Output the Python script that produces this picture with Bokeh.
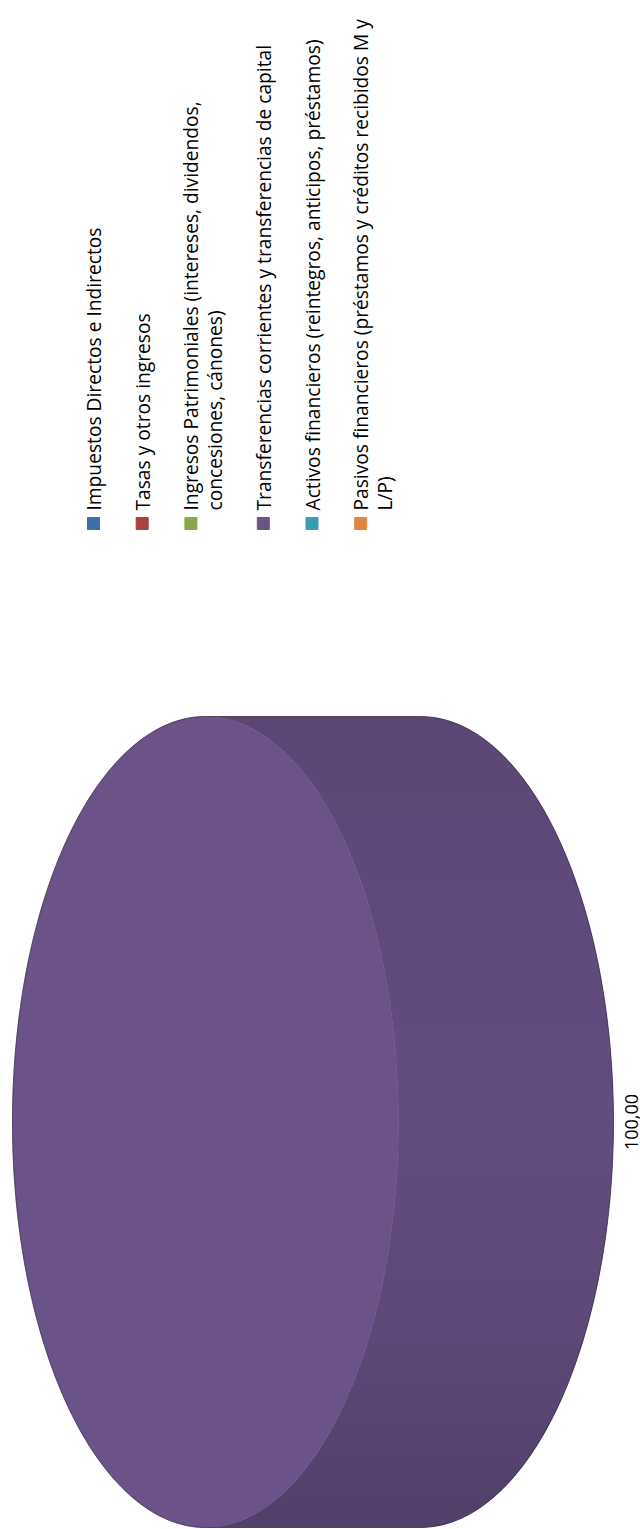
import numpy as np
from bokeh.plotting import figure
from bokeh.models import Range1d
from bokeh.core.properties import value
from bokeh.embed import file_html
from bokeh.resources import INLINE

# ---------------- data ----------------
categories = [
    "Impuestos Directos e Indirectos",
    "Tasas y otros ingresos",
    "Ingresos Patrimoniales (intereses, dividendos,\nconcesiones, cánones)",
    "Transferencias corrientes y transferencias de capital",
    "Activos financieros (reintegros, anticipos, préstamos)",
    "Pasivos financieros (préstamos y créditos recibidos M y\nL/P)",
]
values = [0.0, 0.0, 0.0, 100.0, 0.0, 0.0]
colors = ["#3F6FA9", "#AA4240", "#8AA84B", "#6B538A", "#3C9BB4", "#E3843C"]

# ---------------- layout ----------------
W, H = 640, 1529
FONT = "Open Sans"
CX, CY = 205.0, 1121.5      # centre of the front (top) face
RX, RY = 193.0, 405.5       # semi axes of the face ellipse
DEPTH = 215.0               # extrusion to the right

p = figure(width=W, height=H, x_range=Range1d(0, W), y_range=Range1d(H, 0),
           output_backend="svg", toolbar_location=None, min_border=0,
           x_axis_location=None, y_axis_location=None)
p.grid.visible = False
p.outline_line_color = None
p.background_fill_color = "white"
p.border_fill_color = "white"


def hex_rgb(h):
    h = h.lstrip("#")
    return np.array([int(h[i:i + 2], 16) for i in (0, 2, 4)], dtype=float)


def shade(h, f):
    r = np.clip(hex_rgb(h) * f, 0, 255).astype(int)
    return "#%02x%02x%02x" % tuple(r)


def side_factor(t):
    # t = sin(theta): -1 top, 0 middle, +1 bottom
    return np.interp(t, [-1.0, -0.5, 0.0, 0.5, 1.0], [0.85, 0.90, 0.93, 0.88, 0.76])


total = sum(values)
start = -np.pi / 2
slices = []
for cat, v, c in zip(categories, values, colors):
    ang = v / total * 2 * np.pi
    if v > 0:
        slices.append((start, start + ang, c, v))
    start += ang

# side (visible right half of the extrusion), banded for shading
for a0, a1, c, v in slices:
    lo, hi = max(a0, -np.pi / 2), min(a1, np.pi / 2)
    if a1 - a0 >= 2 * np.pi - 1e-9:
        lo, hi = -np.pi / 2, np.pi / 2
    if hi <= lo:
        continue
    th = np.linspace(lo, hi, 400)
    xf = CX + RX * np.cos(th)
    yf = CY + RY * np.sin(th)
    p.patch(list(xf) + list((xf + DEPTH)[::-1]), list(yf) + list(yf[::-1]),
            fill_color=shade(c, 0.89), line_color=None)
    sxs, sys_, scol = [], [], []
    edges = np.linspace(lo, hi, 121)
    for t0, t1 in zip(edges[:-1], edges[1:]):
        th = np.linspace(t0, t1, 4)
        xf = CX + RX * np.cos(th)
        yf = CY + RY * np.sin(th)
        xb = xf + DEPTH
        sxs.append(list(xf) + list(xb[::-1]))
        sys_.append(list(yf) + list(yf[::-1]))
        scol.append(shade(c, side_factor(np.sin((t0 + t1) / 2))))
    p.patches(sxs, sys_, fill_color=scol, line_color=None)

# front face of each slice
for a0, a1, c, v in slices:
    th = np.linspace(a0, a1, 400)
    xs = CX + RX * np.cos(th)
    ys = CY + RY * np.sin(th)
    if a1 - a0 < 2 * np.pi - 1e-9:
        xs = np.concatenate([[CX], xs, [CX]])
        ys = np.concatenate([[CY], ys, [CY]])
    p.patch(xs, ys, fill_color=c, line_color=c, line_width=0.5)

# thin dark outer outline
th_l = np.linspace(np.pi / 2, 3 * np.pi / 2, 300)
th_r = np.linspace(-np.pi / 2, np.pi / 2, 300)
ox = list(CX + RX * np.cos(th_l)) + list(CX + DEPTH + RX * np.cos(th_r)) + [CX]
oy = list(CY + RY * np.sin(th_l)) + list(CY + RY * np.sin(th_r)) + [CY + RY]
p.line(ox, oy, line_color="#2a2433", line_width=1, line_alpha=0.6)

# data label
for a0, a1, c, v in slices:
    lab = f"{v:.2f}".replace(".", ",")
    mid = (a0 + a1) / 2 if a1 - a0 < 2 * np.pi - 1e-9 else 0.0
    lx = CX + DEPTH + RX * np.cos(mid) + 18
    ly = CY + RY * np.sin(mid)
    p.text([lx], [ly], text=[lab], angle=np.pi / 2, text_align="center",
           text_baseline="middle", text_font=value(FONT), text_font_size="18px",
           text_color="#000000")

# legend (rotated)
LX0, LY_SQ, LY_TXT = 93.0, 523.0, 510.0
ITEM_GAP, LINE_H = 48.7, 23.7
x = LX0
sq_x, sq_c, tx, ty, tt = [], [], [], [], []
for cat, c in zip(categories, colors):
    lines = cat.split("\n")
    sq_x.append(x)
    sq_c.append(c)
    for k, ln in enumerate(lines):
        tx.append(x + k * LINE_H)
        ty.append(LY_TXT)
        tt.append(ln)
    x += ITEM_GAP + (len(lines) - 1) * LINE_H
p.scatter(sq_x, [LY_SQ] * len(sq_x), marker="square", size=12,
          fill_color=sq_c, line_color=sq_c)
p.text(tx, ty, text=tt, angle=np.pi / 2, text_align="left", text_baseline="middle",
       text_font=value(FONT), text_font_size="19.2px", text_color="#000000")

open("out.html", "w").write(file_html(p, INLINE))
